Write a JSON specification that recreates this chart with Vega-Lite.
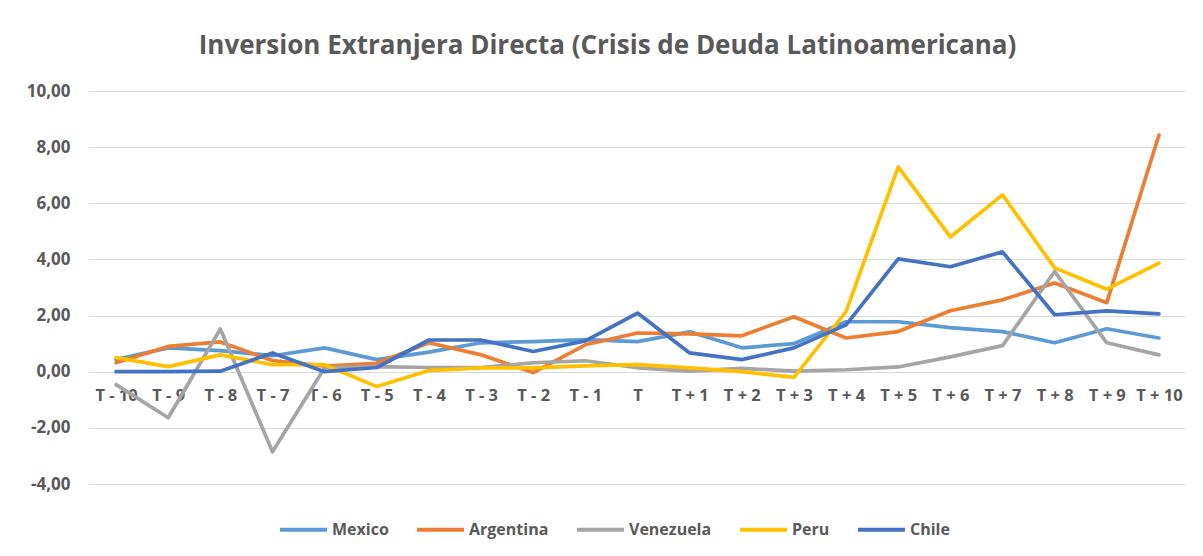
{
  "$schema": "https://vega.github.io/schema/vega-lite/v6.json",
  "width": 1095,
  "height": 393,
  "autosize": {"type": "none"},
  "padding": {"left": 90, "top": 91, "right": 18, "bottom": 72},
  "background": "white",
  "title": {
    "text": "Inversion Extranjera Directa (Crisis de Deuda Latinoamericana)",
    "font": "Open Sans",
    "fontSize": 26,
    "fontWeight": "bold",
    "color": "#595959",
    "anchor": "middle",
    "frame": "group",
    "dx": -30,
    "offset": 23
  },
  "config": {
    "view": {"stroke": null},
    "font": "Open Sans"
  },
  "data": {
    "values": [
      {"p": "T - 10", "pais": "Mexico", "v": 0.43},
      {"p": "T - 9", "pais": "Mexico", "v": 0.85},
      {"p": "T - 8", "pais": "Mexico", "v": 0.75},
      {"p": "T - 7", "pais": "Mexico", "v": 0.57},
      {"p": "T - 6", "pais": "Mexico", "v": 0.85},
      {"p": "T - 5", "pais": "Mexico", "v": 0.43},
      {"p": "T - 4", "pais": "Mexico", "v": 0.7},
      {"p": "T - 3", "pais": "Mexico", "v": 1.03},
      {"p": "T - 2", "pais": "Mexico", "v": 1.07},
      {"p": "T - 1", "pais": "Mexico", "v": 1.14},
      {"p": "T", "pais": "Mexico", "v": 1.07},
      {"p": "T + 1", "pais": "Mexico", "v": 1.42},
      {"p": "T + 2", "pais": "Mexico", "v": 0.85},
      {"p": "T + 3", "pais": "Mexico", "v": 1.0},
      {"p": "T + 4", "pais": "Mexico", "v": 1.78},
      {"p": "T + 5", "pais": "Mexico", "v": 1.78},
      {"p": "T + 6", "pais": "Mexico", "v": 1.57},
      {"p": "T + 7", "pais": "Mexico", "v": 1.43},
      {"p": "T + 8", "pais": "Mexico", "v": 1.03},
      {"p": "T + 9", "pais": "Mexico", "v": 1.53},
      {"p": "T + 10", "pais": "Mexico", "v": 1.2},
      {"p": "T - 10", "pais": "Argentina", "v": 0.32},
      {"p": "T - 9", "pais": "Argentina", "v": 0.9},
      {"p": "T - 8", "pais": "Argentina", "v": 1.06},
      {"p": "T - 7", "pais": "Argentina", "v": 0.4},
      {"p": "T - 6", "pais": "Argentina", "v": 0.2},
      {"p": "T - 5", "pais": "Argentina", "v": 0.3},
      {"p": "T - 4", "pais": "Argentina", "v": 1.03},
      {"p": "T - 3", "pais": "Argentina", "v": 0.6},
      {"p": "T - 2", "pais": "Argentina", "v": -0.03},
      {"p": "T - 1", "pais": "Argentina", "v": 0.96},
      {"p": "T", "pais": "Argentina", "v": 1.38},
      {"p": "T + 1", "pais": "Argentina", "v": 1.35},
      {"p": "T + 2", "pais": "Argentina", "v": 1.28},
      {"p": "T + 3", "pais": "Argentina", "v": 1.96},
      {"p": "T + 4", "pais": "Argentina", "v": 1.2},
      {"p": "T + 5", "pais": "Argentina", "v": 1.43},
      {"p": "T + 6", "pais": "Argentina", "v": 2.17},
      {"p": "T + 7", "pais": "Argentina", "v": 2.56},
      {"p": "T + 8", "pais": "Argentina", "v": 3.16},
      {"p": "T + 9", "pais": "Argentina", "v": 2.46},
      {"p": "T + 10", "pais": "Argentina", "v": 8.43},
      {"p": "T - 10", "pais": "Venezuela", "v": -0.46},
      {"p": "T - 9", "pais": "Venezuela", "v": -1.64},
      {"p": "T - 8", "pais": "Venezuela", "v": 1.52},
      {"p": "T - 7", "pais": "Venezuela", "v": -2.85},
      {"p": "T - 6", "pais": "Venezuela", "v": 0.14},
      {"p": "T - 5", "pais": "Venezuela", "v": 0.18},
      {"p": "T - 4", "pais": "Venezuela", "v": 0.15},
      {"p": "T - 3", "pais": "Venezuela", "v": 0.15},
      {"p": "T - 2", "pais": "Venezuela", "v": 0.32},
      {"p": "T - 1", "pais": "Venezuela", "v": 0.39},
      {"p": "T", "pais": "Venezuela", "v": 0.14},
      {"p": "T + 1", "pais": "Venezuela", "v": 0.02},
      {"p": "T + 2", "pais": "Venezuela", "v": 0.12},
      {"p": "T + 3", "pais": "Venezuela", "v": 0.02},
      {"p": "T + 4", "pais": "Venezuela", "v": 0.07},
      {"p": "T + 5", "pais": "Venezuela", "v": 0.17},
      {"p": "T + 6", "pais": "Venezuela", "v": 0.53},
      {"p": "T + 7", "pais": "Venezuela", "v": 0.93},
      {"p": "T + 8", "pais": "Venezuela", "v": 3.57},
      {"p": "T + 9", "pais": "Venezuela", "v": 1.03},
      {"p": "T + 10", "pais": "Venezuela", "v": 0.6},
      {"p": "T - 10", "pais": "Peru", "v": 0.5},
      {"p": "T - 9", "pais": "Peru", "v": 0.18},
      {"p": "T - 8", "pais": "Peru", "v": 0.6},
      {"p": "T - 7", "pais": "Peru", "v": 0.25},
      {"p": "T - 6", "pais": "Peru", "v": 0.25},
      {"p": "T - 5", "pais": "Peru", "v": -0.53},
      {"p": "T - 4", "pais": "Peru", "v": 0.04},
      {"p": "T - 3", "pais": "Peru", "v": 0.14},
      {"p": "T - 2", "pais": "Peru", "v": 0.14},
      {"p": "T - 1", "pais": "Peru", "v": 0.21},
      {"p": "T", "pais": "Peru", "v": 0.25},
      {"p": "T + 1", "pais": "Peru", "v": 0.14},
      {"p": "T + 2", "pais": "Peru", "v": 0.0},
      {"p": "T + 3", "pais": "Peru", "v": -0.2},
      {"p": "T + 4", "pais": "Peru", "v": 2.14},
      {"p": "T + 5", "pais": "Peru", "v": 7.3},
      {"p": "T + 6", "pais": "Peru", "v": 4.8},
      {"p": "T + 7", "pais": "Peru", "v": 6.3},
      {"p": "T + 8", "pais": "Peru", "v": 3.7},
      {"p": "T + 9", "pais": "Peru", "v": 2.94},
      {"p": "T + 10", "pais": "Peru", "v": 3.87},
      {"p": "T - 10", "pais": "Chile", "v": 0.0},
      {"p": "T - 9", "pais": "Chile", "v": 0.0},
      {"p": "T - 8", "pais": "Chile", "v": 0.02},
      {"p": "T - 7", "pais": "Chile", "v": 0.67},
      {"p": "T - 6", "pais": "Chile", "v": 0.0},
      {"p": "T - 5", "pais": "Chile", "v": 0.15},
      {"p": "T - 4", "pais": "Chile", "v": 1.13},
      {"p": "T - 3", "pais": "Chile", "v": 1.13},
      {"p": "T - 2", "pais": "Chile", "v": 0.72},
      {"p": "T - 1", "pais": "Chile", "v": 1.1},
      {"p": "T", "pais": "Chile", "v": 2.09},
      {"p": "T + 1", "pais": "Chile", "v": 0.67},
      {"p": "T + 2", "pais": "Chile", "v": 0.43},
      {"p": "T + 3", "pais": "Chile", "v": 0.85},
      {"p": "T + 4", "pais": "Chile", "v": 1.67},
      {"p": "T + 5", "pais": "Chile", "v": 4.02},
      {"p": "T + 6", "pais": "Chile", "v": 3.74},
      {"p": "T + 7", "pais": "Chile", "v": 4.27},
      {"p": "T + 8", "pais": "Chile", "v": 2.03},
      {"p": "T + 9", "pais": "Chile", "v": 2.17},
      {"p": "T + 10", "pais": "Chile", "v": 2.06}
    ]
  },
  "mark": {"type": "line", "strokeWidth": 3.7, "strokeJoin": "round", "strokeCap": "round"},
  "encoding": {
    "x": {
      "field": "p",
      "type": "ordinal",
      "sort": ["T - 10", "T - 9", "T - 8", "T - 7", "T - 6", "T - 5", "T - 4", "T - 3", "T - 2", "T - 1", "T", "T + 1", "T + 2", "T + 3", "T + 4", "T + 5", "T + 6", "T + 7", "T + 8", "T + 9", "T + 10"],
      "scale": {"type": "point", "padding": 0.5},
      "axis": {
        "title": null,
        "labelAngle": 0,
        "domain": false,
        "ticks": false,
        "grid": false,
        "offset": -112,
        "labelPadding": 15,
        "labelFont": "Open Sans",
        "labelFontSize": 16.5,
        "labelFontWeight": "bold",
        "labelColor": "#595959"
      }
    },
    "y": {
      "field": "v",
      "type": "quantitative",
      "scale": {"domain": [-4, 10], "nice": false, "zero": false},
      "axis": {
        "title": null,
        "values": [-4, -2, 0, 2, 4, 6, 8, 10],
        "labelExpr": "replace(replace(format(datum.value, '.2f'), '.', ','), '\u2212', '-')",
        "domain": false,
        "ticks": false,
        "gridColor": "#D9D9D9",
        "gridWidth": 1.2,
        "labelPadding": 20,
        "labelFont": "Open Sans",
        "labelFontSize": 17,
        "labelFontWeight": "bold",
        "labelColor": "#595959"
      }
    },
    "color": {
      "field": "pais",
      "type": "nominal",
      "sort": ["Mexico", "Argentina", "Venezuela", "Peru", "Chile"],
      "scale": {
        "domain": ["Mexico", "Argentina", "Venezuela", "Peru", "Chile"],
        "range": ["#5B9BD5", "#ED7D31", "#A5A5A5", "#FFC000", "#4472C4"]
      },
      "legend": {
        "title": null,
        "orient": "none",
        "direction": "horizontal",
        "legendX": 188,
        "legendY": 413,
        "symbolType": "stroke",
        "symbolSize": 2209,
        "symbolStrokeWidth": 4,
        "labelOffset": 3,
        "columnPadding": 20,
        "labelFont": "Open Sans",
        "labelFontSize": 16,
        "labelFontWeight": "bold",
        "labelColor": "#595959"
      }
    }
  }
}
